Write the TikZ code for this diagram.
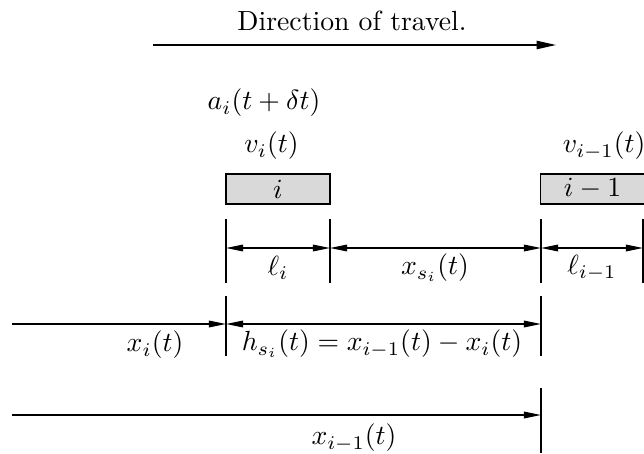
\documentclass[tikz,border=0pt]{standalone}
\usetikzlibrary{arrows.meta}
\begin{document}
\begin{tikzpicture}[x=0.361pt,y=-0.361pt,
  >={Triangle[length=6.2pt,width=2.4pt]},
  line/.style={line width=0.5pt},
  tick/.style={line width=0.55pt},
  veh/.style={draw, line width=0.5pt, fill=black!15, minimum width=37.5pt, minimum height=10.8pt, inner sep=0pt},
  lbl/.style={inner sep=0pt}]
\useasboundingbox (0,0) rectangle (644,453);
% title
\node[lbl] (title) at (352,21) {Direction of travel.};
\coordinate (dA) at (153,45);
\coordinate (dB) at (556,45);
\draw[line,-{Triangle[length=7pt,width=3pt]}] (dA) -- (dB);
% vehicle labels
\node[lbl] (acc) at (264,103) {$a_i(t+\delta t)$};
\node[lbl] (vi) at (271.5,146) {$v_i(t)$};
\node[lbl,anchor=east] (vim) at (646,146) {$v_{i-1}(t)$};
% vehicles
\node[veh] (ci) at (278,189) {$i$};
\node[veh] (cim) at (592.5,189) {$i-1$};
% row 1 ticks
\coordinate (a1) at (226,219); \coordinate (a2) at (226,283);
\coordinate (b1) at (330,219); \coordinate (b2) at (330,283);
\coordinate (c1) at (541,219); \coordinate (c2) at (541,283);
\coordinate (d1) at (643,219); \coordinate (d2) at (643,283);
\draw[tick] (a1) -- (a2);
\draw[tick] (b1) -- (b2);
\draw[tick] (c1) -- (c2);
\draw[tick] (d1) -- (d2);
\coordinate (ra) at (226,248); \coordinate (rb) at (330,248);
\coordinate (rc) at (541,248); \coordinate (rd) at (643,248);
\draw[line,<->] (ra) -- (rb);
\draw[line,<->] (rb) -- (rc);
\draw[line,<->] (rc) -- (rd);
\node[lbl] (li) at (278,268) {$\ell_i$};
\node[lbl] (xs) at (435,268) {$x_{s_i}(t)$};
\node[lbl] (lim) at (592,268) {$\ell_{i-1}$};
% row 2
\coordinate (e1) at (226,296); \coordinate (e2) at (226,356);
\coordinate (f1) at (541,296); \coordinate (f2) at (541,356);
\draw[tick] (e1) -- (e2);
\draw[tick] (f1) -- (f2);
\coordinate (s0) at (12,324); \coordinate (s1) at (226,324); \coordinate (s2) at (541,324);
\draw[line,->] (s0) -- (s1);
\draw[line,<->] (s1) -- (s2);
\node[lbl] (xi) at (155,345) {$x_i(t)$};
\node[lbl] (hs) at (382,344) {$h_{s_i}(t) = x_{i-1}(t) - x_i(t)$};
% row 3
\coordinate (g1) at (541,388); \coordinate (g2) at (541,453);
\draw[tick] (g1) -- (g2);
\coordinate (u0) at (12,415); \coordinate (u1) at (541,415);
\draw[line,->] (u0) -- (u1);
\node[lbl] (xim) at (354,438) {$x_{i-1}(t)$};
\end{tikzpicture}
\end{document}
